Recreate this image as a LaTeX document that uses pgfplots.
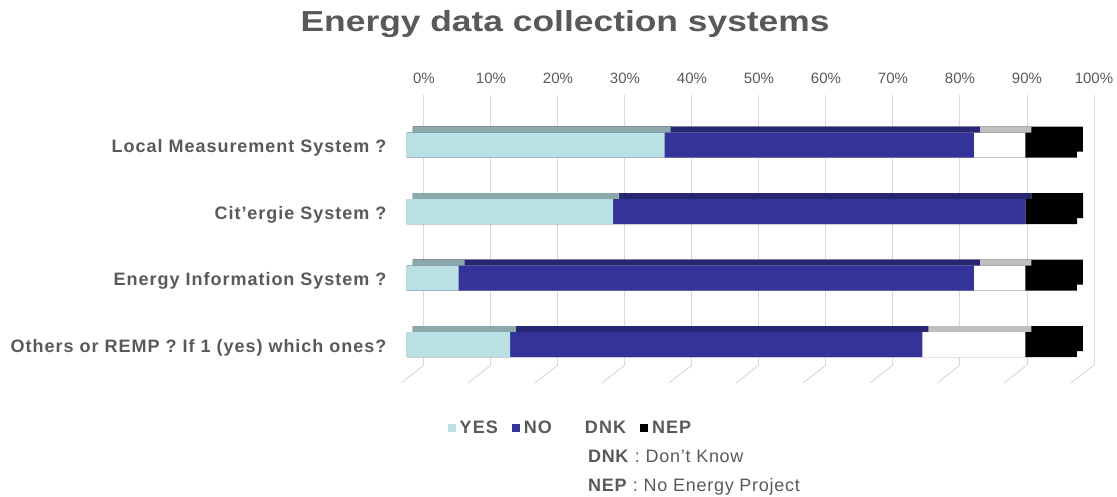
\documentclass[border=0pt]{standalone}
\usepackage{pgfplots}
\pgfplotsset{compat=1.18}
\usepackage{pgfplotstable}
\usepackage{graphicx}
\usepackage{fontspec}
\setmainfont{Liberation Sans}
\newfontfamily\spaced[LetterSpace=4]{Liberation Sans}
\newfontfamily\labelfont[LetterSpace=5.5]{Liberation Sans}
\newfontfamily\wide[LetterSpace=6]{Liberation Sans}

\definecolor{yesF}{HTML}{B9E1E3}
\definecolor{yesT}{HTML}{8BA9A9}
\definecolor{noF}{HTML}{333399}
\definecolor{noT}{HTML}{262673}
\definecolor{dnkT}{HTML}{BFBFBF}
\definecolor{txt}{HTML}{595959}
\definecolor{gridc}{HTML}{D9D9D9}

% share of answers in %, row 4 = top bar
\pgfplotstableread{
row yes no dnk nep
4 38.46 46.15 7.69 7.69
3 30.77 61.54 0.00 7.69
2 7.69 76.92 7.69 7.69
1 15.38 61.54 15.38 7.69
}\answers

\begin{document}
\begin{tikzpicture}
\begin{axis}[
    name=ax,
    width=670pt, height=270pt, scale only axis,
    xmin=0, xmax=100, ymin=0.692, ymax=4.752,
    clip=false,
    axis line style={draw=none},
    major tick length=0pt,
    xtick={0,10,...,100},
    xticklabels={0\%,10\%,20\%,30\%,40\%,50\%,60\%,70\%,80\%,90\%,100\%},
    xticklabel pos=upper,
    xticklabel style={xshift=17pt, yshift=8pt, text=txt, font=\fontsize{15}{15}\selectfont},
    xmajorgrids,
    major grid style={gridc, line width=1pt, xshift=17pt},
    ytick={1,2,3,4},
    yticklabels={Others or REMP ? If 1 (yes) which ones?, Energy Information System ?, Cit’ergie System ?, Local Measurement System ?},
    yticklabel style={xshift=-17pt, yshift=-3pt, text=txt, font=\labelfont\bfseries\fontsize{18}{19}\selectfont},
    title={\scalebox{1.22}[1]{Energy data collection systems}},
    title style={at={(0.236,1)}, anchor=base, yshift=57pt, text=txt,
      font=\bfseries\fontsize{29}{30}\selectfont},
    legend columns=4,
    legend style={at={(0.2455,-0.233)}, anchor=center, draw=none, fill=none,
      text=txt, font=\wide\bfseries\fontsize{18}{18}\selectfont,
      nodes={inner xsep=4pt},
      /tikz/every even column/.append style={column sep=10pt}},
    legend image code/.code={\fill[#1] (0pt,-4pt) rectangle (8pt,4pt);},
    every axis plot/.append style={xbar, bar width=25pt, bar shift=0pt, draw=none, forget plot},
]
\addlegendimage{fill=yesF}\addlegendentry{YES}
\addlegendimage{fill=noF}\addlegendentry{NO}
\addlegendimage{fill=white}\addlegendentry{\hspace{7pt}DNK}
\addlegendimage{fill=black}\addlegendentry{NEP}

% slanted feet of the grid lines (3D floor)
\pgfplotsinvokeforeach{0,10,...,100}{
  \draw[gridc, line width=1pt] ([xshift=17pt]axis cs:#1,0.692) -- ++(-23pt,-18pt);
}

% top faces (drawn behind, shifted up and right)
\addplot[fill=black, xshift=6pt, yshift=6pt] table[y=row, x expr=\thisrow{yes}+\thisrow{no}+\thisrow{dnk}+\thisrow{nep}] \answers;
\addplot[fill=dnkT, xshift=6pt, yshift=6pt] table[y=row, x expr=\thisrow{yes}+\thisrow{no}+\thisrow{dnk}] \answers;
\addplot[fill=noT, xshift=6pt, yshift=6pt] table[y=row, x expr=\thisrow{yes}+\thisrow{no}] \answers;
\addplot[fill=yesT, xshift=6pt, yshift=6pt] table[y=row, x=yes] \answers;

% front faces
\addplot[fill=black] table[y=row, x expr=\thisrow{yes}+\thisrow{no}+\thisrow{dnk}+\thisrow{nep}] \answers;
\addplot[fill=white] table[y=row, x expr=\thisrow{yes}+\thisrow{no}+\thisrow{dnk}] \answers;
\addplot[fill=noF] table[y=row, x expr=\thisrow{yes}+\thisrow{no}] \answers;
\addplot[fill=yesF] table[y=row, x=yes] \answers;

\node[anchor=west, text=txt, font=\spaced\fontsize{18}{18}\selectfont] at (rel axis cs:0.265,-0.337) {\textbf{DNK} : Don’t Know};
\node[anchor=west, text=txt, font=\spaced\fontsize{18}{18}\selectfont] at (rel axis cs:0.265,-0.452) {\textbf{NEP} : No Energy Project};
\end{axis}
\pgfresetboundingbox
\path[use as bounding box] ([xshift=-407pt, yshift=-132pt]ax.south west) rectangle ([xshift=40pt, yshift=95pt]ax.north east);
\end{tikzpicture}
\end{document}
